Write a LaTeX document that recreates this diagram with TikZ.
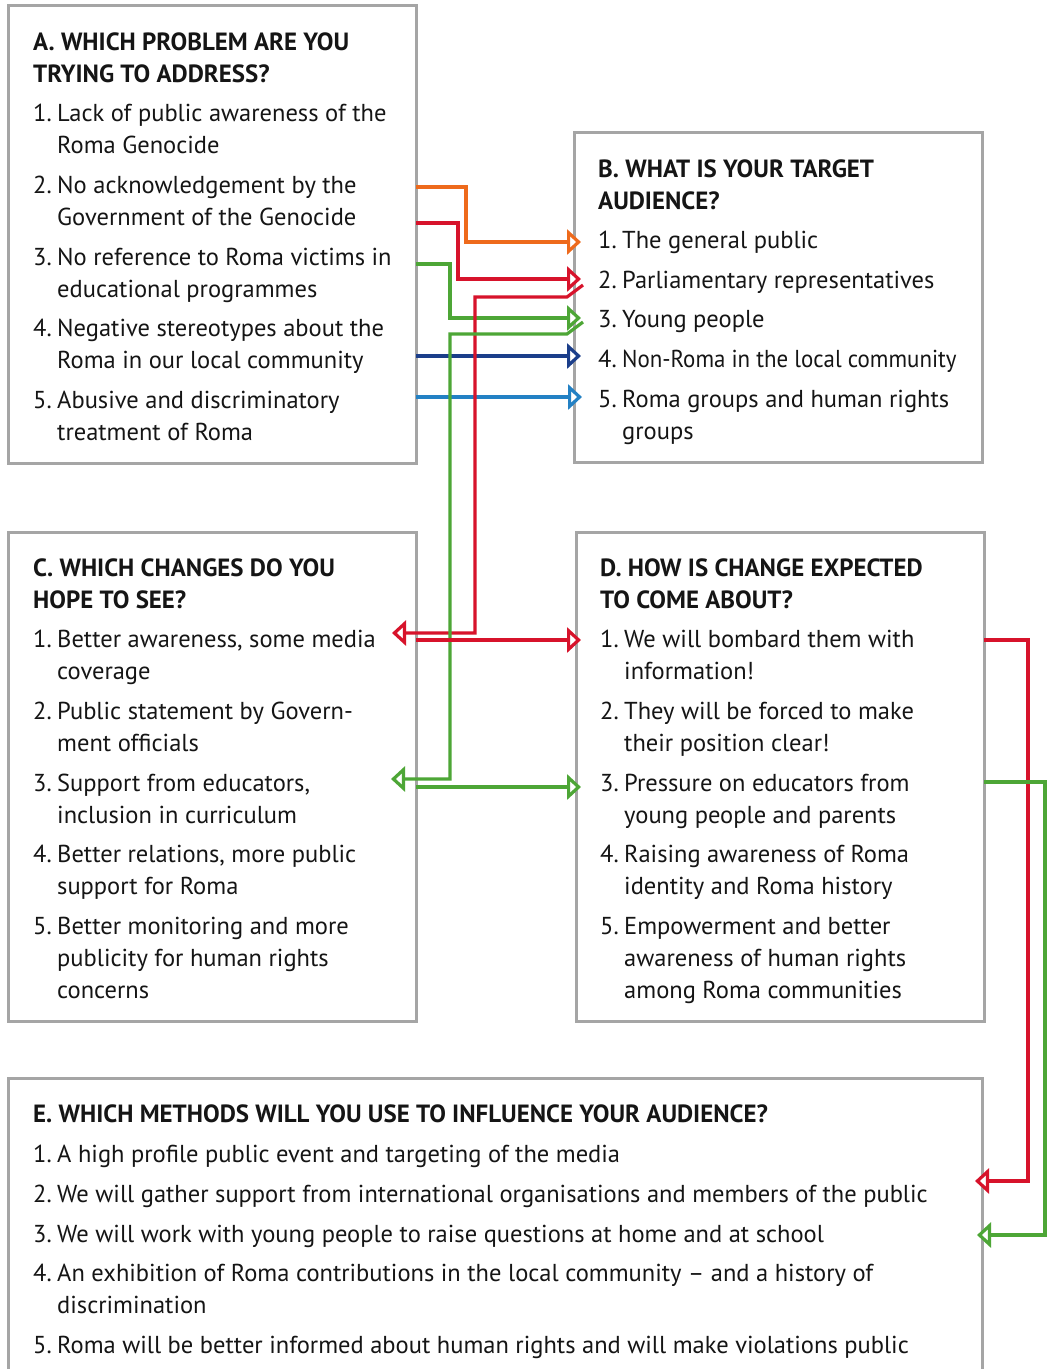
\documentclass[tikz,border=0pt]{standalone}
\usepackage{fontspec}
\usepackage{graphicx}
\setmainfont{PT Sans}
\usetikzlibrary{arrows.meta}
\definecolor{boxgray}{HTML}{A5A5A5}
\definecolor{corange}{HTML}{EE6A1C}
\definecolor{cred}{HTML}{D7132B}
\definecolor{cgreen}{HTML}{4DA636}
\definecolor{cnavy}{HTML}{1B3E8A}
\definecolor{cblue}{HTML}{2381C4}
\definecolor{txtc}{HTML}{151515}
\tikzset{
 panel/.style={draw=boxgray, line width=3pt, anchor=north west, inner sep=0pt, outer sep=0pt},
 txt/.style={anchor=base west, inner sep=0pt, font=\fontsize{24.5}{32}\selectfont, text=txtc},
 ttl/.style={anchor=base west, inner sep=0pt, font=\fontsize{24.9}{32}\selectfont\bfseries, text=txtc},
 conn/.style={line width=3.2pt, -{Triangle[fill=white, length=14pt, width=25pt]}},
}
\newcommand\tline[4]{\node[txt] (#1) at (#2,#3) {#4};}
\newcommand\tttl[4]{\node[ttl] (#1) at (#2,#3) {#4};}
\newcommand\itm[5]{\node[txt] (#1n) at (#2,#3) {#4.}; \node[txt] (#1) at (#2+24,#3) {#5};}
\begin{document}
\begin{tikzpicture}[x=1pt,y=-1pt]
\useasboundingbox (0,0) rectangle (1049,1369);
\fill[white] (0,0) rectangle (1049,1369);
% panels
\node[panel, minimum width=408pt, minimum height=458pt] (A) at (8,5) {};
\node[panel, minimum width=408pt, minimum height=330pt] (B) at (574,132) {};
\node[panel, minimum width=408pt, minimum height=489pt] (C) at (8,532) {};
\node[panel, minimum width=408pt, minimum height=489pt] (D) at (576,532) {};
\node[panel, minimum width=974pt, minimum height=330pt] (E) at (8,1078) {};
% A
\tttl{at1}{33}{50}{A. WHICH PROBLEM ARE YOU}
\tttl{at2}{33}{82}{TRYING TO ADDRESS?}
\itm{a1}{33}{121}{1}{Lack of public awareness of the}
\tline{a1b}{57}{153}{Roma Genocide}
\itm{a2}{33}{193}{2}{No acknowledgement by the}
\tline{a2b}{57}{225}{Government of the Genocide}
\itm{a3}{33}{265}{3}{No reference to Roma victims in}
\tline{a3b}{57}{297}{educational programmes}
\itm{a4}{33}{336}{4}{Negative stereotypes about the}
\tline{a4b}{57}{368}{Roma in our local community}
\itm{a5}{33}{408}{5}{Abusive and discriminatory}
\tline{a5b}{57}{440}{treatment of Roma}
% B
\tttl{bt1}{598}{177}{B. WHAT IS YOUR TARGET}
\tttl{bt2}{598}{209}{AUDIENCE?}
\itm{b1}{598}{248}{1}{The general public}
\itm{b2}{598}{288}{2}{Parliamentary representatives}
\itm{b3}{598}{327}{3}{Young people}
\itm{b4}{598}{367}{4}{\scalebox{0.935}[1]{Non-Roma in the local community}}
\itm{b5}{598}{407}{5}{Roma groups and human rights}
\tline{b5b}{622}{439}{groups}
% C
\tttl{ct1}{33}{576}{C. WHICH CHANGES DO YOU}
\tttl{ct2}{33}{608}{HOPE TO SEE?}
\itm{c1}{33}{647}{1}{Better awareness, some media}
\tline{c1b}{57}{679}{coverage}
\itm{c2}{33}{719}{2}{Public statement by Govern-}
\tline{c2b}{57}{751}{ment officials}
\itm{c3}{33}{791}{3}{Support from educators,}
\tline{c3b}{57}{823}{inclusion in curriculum}
\itm{c4}{33}{862}{4}{Better relations, more public}
\tline{c4b}{57}{894}{support for Roma}
\itm{c5}{33}{934}{5}{Better monitoring and more}
\tline{c5b}{57}{966}{publicity for human rights}
\tline{c5c}{57}{998}{concerns}
% D
\tttl{dt1}{600}{576}{D. HOW IS CHANGE EXPECTED}
\tttl{dt2}{600}{608}{TO COME ABOUT?}
\itm{d1}{600}{647}{1}{We will bombard them with}
\tline{d1b}{624}{679}{information!}
\itm{d2}{600}{719}{2}{They will be forced to make}
\tline{d2b}{624}{751}{their position clear!}
\itm{d3}{600}{791}{3}{Pressure on educators from}
\tline{d3b}{624}{823}{young people and parents}
\itm{d4}{600}{862}{4}{Raising awareness of Roma}
\tline{d4b}{624}{894}{identity and Roma history}
\itm{d5}{600}{934}{5}{Empowerment and better}
\tline{d5b}{624}{966}{awareness of human rights}
\tline{d5c}{624}{998}{among Roma communities}
% E
\tttl{et1}{33}{1122}{E. WHICH METHODS WILL YOU USE TO INFLUENCE YOUR AUDIENCE?}
\itm{e1}{33}{1162}{1}{A high profile public event and targeting of the media}
\itm{e2}{33}{1202}{2}{We will gather support from international organisations and members of the public}
\itm{e3}{33}{1242}{3}{We will work with young people to raise questions at home and at school}
\itm{e4}{33}{1281}{4}{An exhibition of Roma contributions in the local community -- and a history of}
\tline{e4b}{57}{1313}{discrimination}
\itm{e5}{33}{1353}{5}{Roma will be better informed about human rights and will make violations public}
% connector end points
\coordinate (pA2) at (416,187); \coordinate (pB1) at (581,242);
\coordinate (pA2r) at (416,223); \coordinate (pB2) at (581,279);
\coordinate (pA3) at (416,264); \coordinate (pB3) at (581,318);
\coordinate (pA4) at (416,356); \coordinate (pB4) at (581,356);
\coordinate (pA5) at (416,397); \coordinate (pB5) at (582,397);
\coordinate (pB2s) at (583,285); \coordinate (pC1) at (392,633);
\coordinate (pB3s) at (583,322); \coordinate (pC3) at (391,779);
\coordinate (pC1s) at (416,640); \coordinate (pD1) at (581,640);
\coordinate (pC3s) at (416,787); \coordinate (pD3) at (581,787);
\coordinate (pD1s) at (984,640); \coordinate (pE2) at (975,1181);
\coordinate (pD3s) at (984,782); \coordinate (pE3) at (977,1235);
% connectors
\draw[conn, corange] (pA2) -- (466,187) -- (466,242) -- (pB1);
\draw[conn, cred] (pA2r) -- (458,223) -- (458,279) -- (pB2);
\draw[conn, cgreen] (pA3) -- (450,264) -- (450,318) -- (pB3);
\draw[conn, cnavy] (pA4) -- (pB4);
\draw[conn, cblue] (pA5) -- (pB5);
\draw[conn, cred] (pB2s) -- (567,297) -- (475,297) -- (475,633) -- (pC1);
\draw[conn, cgreen] (pB3s) -- (567,334) -- (450,334) -- (450,779) -- (pC3);
\draw[conn, cred] (pC1s) -- (pD1);
\draw[conn, cgreen] (pC3s) -- (pD3);
\draw[conn, cred] (pD1s) -- (1028,640) -- (1028,1181) -- (pE2);
\draw[conn, cgreen] (pD3s) -- (1045,782) -- (1045,1235) -- (pE3);
\end{tikzpicture}
\end{document}
